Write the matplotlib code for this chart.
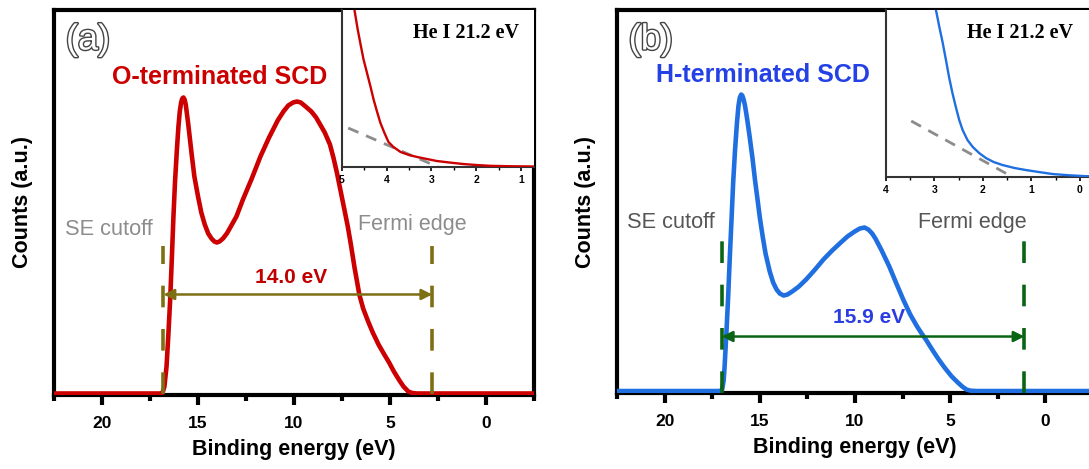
import matplotlib
matplotlib.use('Agg')
import matplotlib.pyplot as plt
import matplotlib.patheffects as pe

plt.rcParams['font.family'] = ['Liberation Sans', 'DejaVu Sans']

# ---- panel (a): O-terminated SCD ----
energy_a = [22.5, 18.0, 17.0, 16.85, 16.75, 16.64, 16.55, 16.45, 16.36, 16.28, 16.2, 16.1,
            16.02, 15.95, 15.88, 15.82, 15.76, 15.7, 15.64, 15.58, 15.52, 15.46, 15.33, 15.19,
            15.0, 14.83, 14.65, 14.47, 14.3, 14.15, 14.02, 13.88, 13.7, 13.5, 13.38, 13.0,
            12.66, 12.2, 11.75, 11.3, 10.85, 10.55, 10.3, 10.05, 9.85, 9.65, 9.4, 9.1,
            8.85, 8.67, 8.4, 8.13, 7.95, 7.77, 7.6, 7.41, 7.2, 7.04, 6.85, 6.6,
            6.4, 6.14, 5.9, 5.6, 5.3, 5.05, 4.8, 4.51, 4.3, 4.05, 3.85, 3.6, 0, -2.5]
counts_a = [1, 1, 1, 1.5, 8, 28, 58, 95, 138, 178, 212, 245,
            268, 283, 292, 296, 297, 295, 290, 281, 272, 262, 240, 218,
            198, 182, 170, 161, 156, 153, 152, 153, 156, 161, 165, 178,
            195, 216, 238, 257, 274, 283, 289, 292, 293, 292, 288, 283,
            277, 271, 262, 250, 237, 222, 206, 188, 168, 150, 127, 100,
            86, 73, 62, 50, 40, 32, 23, 14, 8, 3, 1.5, 1, 1, 1]
inset_e_a = [4.8, 4.72, 4.65, 4.59, 4.52, 4.44, 4.36, 4.29, 4.22, 4.14, 4.05, 3.96,
             3.85, 3.69, 3.5, 3.32, 3.1, 2.88, 2.6, 2.29, 2.0, 1.69, 1.3, 0.71]
inset_c_a = [185, 157, 138, 124, 108, 94, 80, 67, 56, 44, 34, 25,
             20, 15, 12, 10, 8, 6, 4.5, 3, 2, 1.2, 0.8, 0.5]
guide_e_a = [4.86, 2.85]
guide_c_a = [39, 0]
cutoff_a, fermi_a = 16.8, 2.8

# ---- panel (b): H-terminated SCD ----
energy_b = [22.5, 18.0, 17.1, 16.98, 16.9, 16.85, 16.76, 16.67, 16.58, 16.48, 16.4, 16.3,
            16.2, 16.12, 16.05, 15.98, 15.92, 15.85, 15.78, 15.67, 15.55, 15.39, 15.25, 15.12,
            15.0, 14.85, 14.7, 14.48, 14.3, 14.12, 13.95, 13.75, 13.55, 13.3, 12.95, 12.57,
            12.1, 11.66, 11.2, 10.75, 10.4, 10.02, 9.75, 9.5, 9.3, 9.1, 8.93, 8.6,
            8.2, 7.85, 7.47, 7.1, 6.74, 6.5, 6.28, 5.95, 5.64, 5.3, 4.92, 4.6,
            4.37, 4.15, 3.92, 3.6, 0, -2.5]
counts_b = [1.5, 1.5, 1.5, 3, 12, 26, 58, 93, 134, 176, 210, 243,
            270, 287, 295, 298, 297, 293, 287, 274, 258, 235, 212, 193,
            175, 156, 139, 121, 110, 103, 99, 97, 98, 101, 106, 113,
            123, 133, 142, 150, 156, 161, 164, 165, 163, 159, 154, 142,
            126, 110, 93, 78, 66, 59, 53, 43, 34, 25, 16, 10,
            6, 3, 1.8, 1.5, 1.5, 1.5]
inset_e_b = [3.05, 2.97, 2.9, 2.83, 2.76, 2.70, 2.63, 2.56, 2.49, 2.42, 2.32, 2.21,
             2.08, 1.94, 1.78, 1.60, 1.35, 1.12, 0.85, 0.57, 0.25, -0.12, -0.27]
inset_c_b = [200, 167, 150, 134, 116, 100, 84, 70, 57, 47, 37, 30,
             24, 19, 15, 12, 9, 7, 5, 3, 1.8, 0.8, 0.7]
guide_e_b = [3.48, 1.39]
guide_c_b = [56, 0]
cutoff_b, fermi_b = 17.0, 1.1

major_ticks = [20, 15, 10, 5, 0]
minor_ticks = [22.5, 17.5, 12.5, 7.5, 2.5, -2.5]


def style_main(ax, ytop):
    ax.set_xlim(22.5, -2.5)
    ax.set_ylim(-0.5, ytop)
    ax.set_xticks(major_ticks)
    ax.set_xticks(minor_ticks, minor=True)
    ax.set_yticks([])
    for s in ax.spines.values():
        s.set_linewidth(3)
    ax.tick_params(axis='x', which='major', direction='out', length=7, width=3, labelsize=12.5, pad=8)
    ax.tick_params(axis='x', which='minor', direction='out', length=4, width=3)
    for lab in ax.get_xticklabels():
        lab.set_fontweight('bold')
    ax.set_xlabel('Binding energy (eV)', fontsize=15.5, fontweight='bold', labelpad=6)
    ax.set_ylabel('Counts (a.u.)', fontsize=15.5, fontweight='bold', labelpad=15)


def style_inset(ax, xlim, ytop, majors, minors):
    ax.set_xlim(*xlim)
    ax.set_ylim(0, ytop)
    ax.set_xticks(majors)
    ax.set_xticks(minors, minor=True)
    ax.set_yticks([])
    ax.spines['top'].set_visible(False)
    ax.spines['right'].set_visible(False)
    for side in ('left', 'bottom'):
        ax.spines[side].set_linewidth(1.5)
        ax.spines[side].set_color('#333333')
    ax.tick_params(axis='x', which='major', direction='out', length=3, width=1.2, labelsize=7.5, pad=3)
    ax.tick_params(axis='x', which='minor', direction='out', length=2, width=1)
    for lab in ax.get_xticklabels():
        lab.set_fontweight('bold')


def panel(fig, rect, inset_rect, energy, counts, ie, ic, ge, gc, cutoff, fermi,
          ytop, itop, ixlim, imaj, imin, curve_col, label, label_col, tag,
          gap_text, gap_col, mark_col, gray_col, mark_top, arrow_y, txt):
    ax = fig.add_axes(rect)
    ax.plot(energy, counts, color=curve_col, lw=3.3, solid_joinstyle='round', zorder=3)
    for x in (cutoff, fermi):
        ax.plot([x, x], [0, mark_top], color=mark_col, lw=2.6, linestyle=(0, (6, 6)), zorder=4)
    ax.annotate('', xy=(fermi, arrow_y), xytext=(cutoff, arrow_y),
                arrowprops=dict(arrowstyle='<|-|>', color=mark_col, lw=1.8,
                                mutation_scale=16, shrinkA=0, shrinkB=0), zorder=4)
    style_main(ax, ytop)
    t = ax.text(txt['tag'][0], txt['tag'][1], tag, transform=ax.transAxes, fontsize=26,
                color='white', ha='center', va='center')
    t.set_path_effects([pe.withStroke(linewidth=2, foreground='#444444')])
    ax.text(txt['label'][0], txt['label'][1], label, transform=ax.transAxes, fontsize=18,
            fontweight='bold', color=label_col, ha='center', va='center')
    ax.text(txt['se'][0], txt['se'][1], 'SE cutoff', transform=ax.transAxes, fontsize=15.7,
            color=gray_col, ha='center', va='center')
    ax.text(txt['fe'][0], txt['fe'][1], 'Fermi edge', transform=ax.transAxes, fontsize=15.5,
            color=gray_col, ha='center', va='center')
    ax.text(txt['gap'][0], txt['gap'][1], gap_text, transform=ax.transAxes, fontsize=15,
            fontweight='bold', color=gap_col, ha='center', va='center')

    ins = fig.add_axes(inset_rect)
    ins.plot(ie, ic, color=curve_col, lw=1.7, solid_joinstyle='round', zorder=3)
    ins.plot(ge, gc, color='#8c8c8c', lw=2, linestyle=(0, (4, 3)), zorder=2)
    style_inset(ins, ixlim, itop, imaj, imin)
    ins.text(txt['he'][0], txt['he'][1], 'He I 21.2 eV', transform=ins.transAxes,
             fontsize=14.5, fontweight='bold', family=['Liberation Serif', 'DejaVu Serif'],
             ha='center', va='center')
    return ax


fig = plt.figure(figsize=(10.89, 4.69), dpi=100)

panel(fig, [0.0496, 0.1578, 0.4408, 0.8209], [0.3140, 0.6439, 0.1763, 0.3348],
      energy_a, counts_a, inset_e_a, inset_c_a, guide_e_a, guide_c_a, cutoff_a, fermi_a,
      384.5, 157, (5, 0.71), [5, 4, 3, 2, 1], [4.5, 3.5, 2.5, 1.5],
      '#cc0000', 'O-terminated SCD', '#cc0000', '(a)', '14.0 eV', '#c00000',
      '#7d6f14', '#8c8c8c', 148, 100,
      dict(tag=(0.071, 0.922), label=(0.344, 0.826), se=(0.115, 0.429),
           fe=(0.746, 0.442), gap=(0.494, 0.306), he=(0.648, 0.854)))

panel(fig, [0.5666, 0.1620, 0.4371, 0.8166], [0.8136, 0.6226, 0.1901, 0.3561],
      energy_b, counts_b, inset_e_b, inset_c_b, guide_e_b, guide_c_b, cutoff_b, fermi_b,
      382.5, 167, (4, -0.27), [4, 3, 2, 1, 0], [3.5, 2.5, 1.5, 0.5],
      '#1f6fe0', 'H-terminated SCD', '#2441e6', '(b)', '15.9 eV', '#2a3de0',
      '#0a6414', '#555555', 152, 56,
      dict(tag=(0.071, 0.922), label=(0.307, 0.83), se=(0.113, 0.446),
           fe=(0.746, 0.444), gap=(0.529, 0.196), he=(0.647, 0.862)))

fig.savefig('out.png', dpi=100)
